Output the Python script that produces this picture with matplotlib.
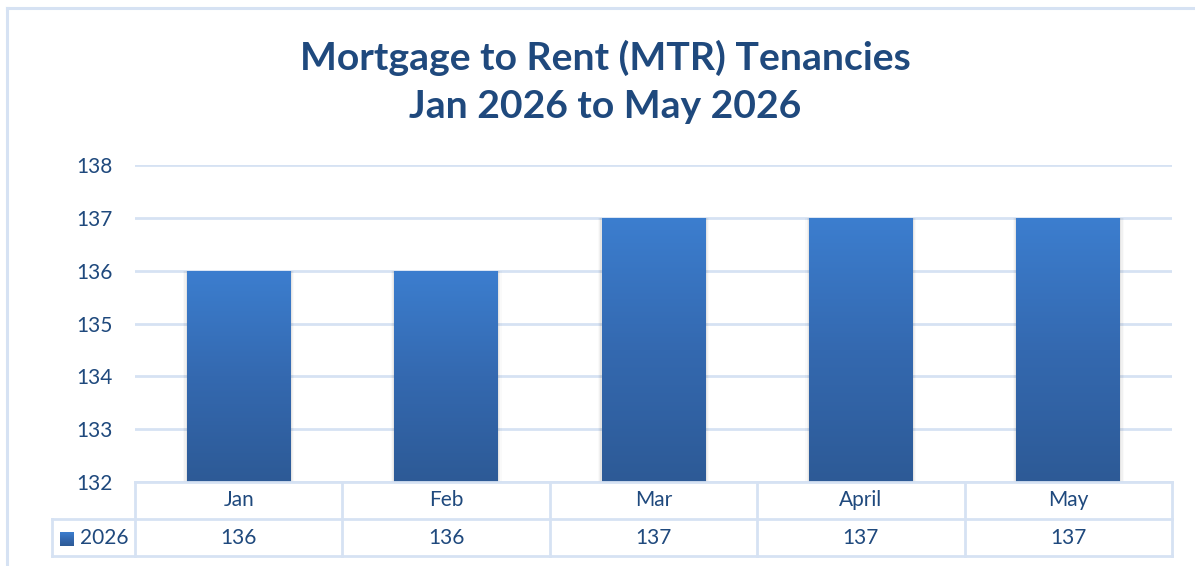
import numpy as np
import matplotlib
matplotlib.use("Agg")
import matplotlib.pyplot as plt
from matplotlib.patches import Rectangle
from matplotlib.lines import Line2D
from matplotlib.colors import LinearSegmentedColormap

categories = ["Jan", "Feb", "Mar", "April", "May"]
values = [136, 136, 137, 137, 137]
series_name = "2026"
title_lines = ["Mortgage to Rent (MTR) Tenancies", "Jan 2026 to May 2026"]
y_ticks = [132, 133, 134, 135, 136, 137, 138]

W, H = 1195, 566
fig = plt.figure(figsize=(W / 100, H / 100), dpi=100)
fig.patch.set_facecolor("white")

TXT = "#1F497D"
GRID = "#D6E2F3"
FONT = "Lato"
FS = 15

def fx(x):
    return x / W

def fy(y):
    return 1 - y / H

# outer chart border
fig.add_artist(Line2D([fx(7), fx(7)], [fy(8), fy(H + 5)], color=GRID, lw=2.2))
fig.add_artist(Line2D([fx(7), fx(W + 5)], [fy(8), fy(8)], color=GRID, lw=2.2))

# title
fig.text(fx(605), fy(58), title_lines[0], ha="center", va="center",
         fontsize=28.2, fontweight="bold", color=TXT, family=FONT)
fig.text(fx(605), fy(107), title_lines[1], ha="center", va="center",
         fontsize=28.2, fontweight="bold", color=TXT, family=FONT)

L, R, T, B = 135, 1172, 165, 482
ax = fig.add_axes([fx(L), fy(B), fx(R) - fx(L), fy(T) - fy(B)])
ax.set_xlim(-0.5, len(categories) - 0.5)
ax.set_ylim(y_ticks[0], y_ticks[-1])
ax.set_yticks(y_ticks)
ax.set_yticklabels([str(t) for t in y_ticks])
ax.tick_params(axis="y", length=0, pad=16, labelsize=FS, labelcolor=TXT)
for lab in ax.get_yticklabels():
    lab.set_family(FONT)
ax.set_xticks([])
for s in ax.spines.values():
    s.set_visible(False)
ax.grid(axis="y", color=GRID, lw=2)
ax.set_axisbelow(True)

cmap = LinearSegmentedColormap.from_list("g", ["#2D5A96", "#3469B0", "#3C7ECF"])
grad = np.linspace(0, 1, 256).reshape(-1, 1)
bw = 0.5
for i, v in enumerate(values):
    # soft shadow
    for k, a in enumerate([0.05, 0.035, 0.02]):
        d = 0.006 * (k + 1)
        ax.add_patch(Rectangle((i - bw / 2 - d, y_ticks[0]), bw + 2 * d, v - y_ticks[0] - 0.01,
                               facecolor="black", alpha=a, lw=0, zorder=2))
    rect = Rectangle((i - bw / 2, y_ticks[0]), bw, v - y_ticks[0], facecolor="none", lw=0, zorder=3)
    ax.add_patch(rect)
    im = ax.imshow(grad, extent=(i - bw / 2, i + bw / 2, y_ticks[0], v), origin="lower",
                   cmap=cmap, aspect="auto", zorder=3)
    im.set_clip_path(rect)
ax.set_xlim(-0.5, len(categories) - 0.5)
ax.set_ylim(y_ticks[0], y_ticks[-1])

# data table
n = len(categories)
cols = [L + (R - L) * j / n for j in range(n + 1)]
r0, r1, r2 = 482, 519, 556
lw = 2
def hline(y, x0, x1):
    fig.add_artist(Line2D([fx(x0), fx(x1)], [fy(y), fy(y)], color=GRID, lw=lw))
def vline(x, y0, y1):
    fig.add_artist(Line2D([fx(x), fx(x)], [fy(y0), fy(y1)], color=GRID, lw=lw))
hline(r0, L, R)
hline(r1, 52, R)
hline(r2, 52, R)
vline(52, r1, r2)
for c in cols:
    vline(c, r0, r2)
for j, (cat, v) in enumerate(zip(categories, values)):
    cx = (cols[j] + cols[j + 1]) / 2
    fig.text(fx(cx), fy((r0 + r1) / 2), cat, ha="center", va="center",
             fontsize=FS, color=TXT, family=FONT)
    fig.text(fx(cx), fy((r1 + r2) / 2), str(v), ha="center", va="center",
             fontsize=FS, color=TXT, family=FONT)

# legend key
kax = fig.add_axes([fx(60), fy(546), fx(74) - fx(60), fy(532) - fy(546)])
kax.imshow(grad, cmap=cmap, origin="lower", aspect="auto", extent=(0, 1, 0, 1))
kax.set_axis_off()
fig.text(fx(80), fy((r1 + r2) / 2), series_name, ha="left", va="center",
         fontsize=FS, color=TXT, family=FONT)

fig.savefig("out.png", dpi=100, facecolor="white")
